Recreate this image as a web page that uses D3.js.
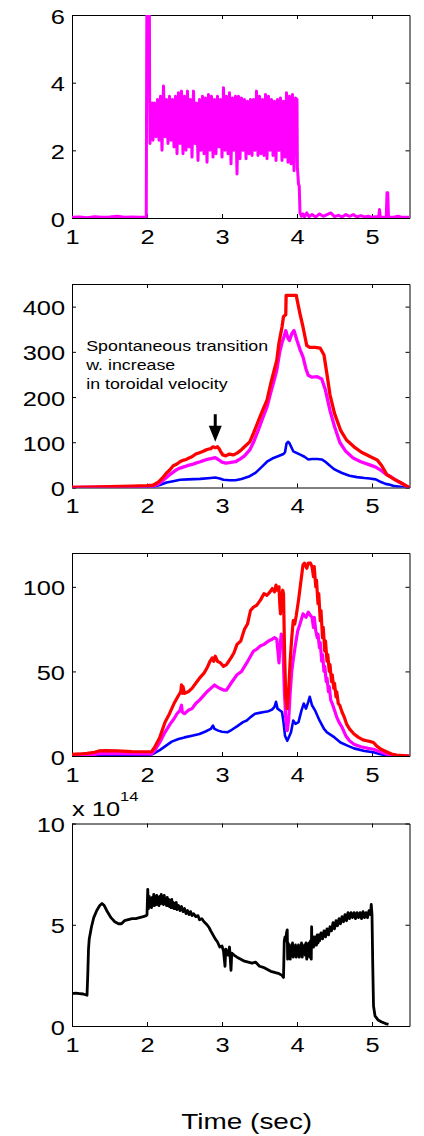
<!DOCTYPE html>
<html><head><meta charset="utf-8">
<script src="https://cdn.jsdelivr.net/npm/d3@7"></script>
<style>body{margin:0;background:#fff}svg{display:block}</style>
</head><body>
<svg id="c" width="424" height="1136"></svg>
<script>
// ---------- data ----------
const xTicks = [1, 2, 3, 4, 5];
const p1Ticks = [0, 2, 4, 6];
const p2Ticks = [0, 100, 200, 300, 400];
const p3Ticks = [0, 50, 100];
const p4Ticks = [0, 5, 10];
const xLabel = "Time (sec)";
const expLabel = ["x 10", "14"];
const annLines = ["Spontaneous transition", "w. increase", "in toroidal velocity"];

// panel 1: magenta [time, value]
const p1Mag = [[1.0,0.02],[1.1,0.03],[1.2,0.01],[1.3,0.04],[1.4,0.02],[1.5,0.03],[1.6,0.05],[1.7,0.02],[1.8,0.03],[1.9,0.02],[1.99,0.02],
[2.0,8],[2.03,8],[2.035,3.6],[2.04,2.2],[2.05,3.4],[2.06,2.7],[2.07,3.4],
[2.08,2.3],[2.10,3.4],[2.12,2.4],[2.14,3.5],[2.16,2.3],[2.18,3.6],[2.20,2.0],[2.22,3.9],[2.24,2.4],[2.26,3.5],[2.28,2.2],[2.30,3.6],
[2.32,2.3],[2.34,3.5],[2.36,2.1],[2.38,3.6],[2.40,1.9],[2.42,3.7],[2.44,2.2],[2.46,3.75],[2.48,1.9],[2.50,3.6],[2.52,2.0],[2.54,3.75],
[2.56,2.1],[2.58,3.5],[2.60,1.8],[2.62,3.75],[2.64,2.2],[2.66,3.4],[2.68,1.7],[2.70,3.5],[2.72,2.0],[2.74,3.6],[2.76,1.9],[2.78,3.55],
[2.80,1.65],[2.82,3.65],[2.84,2.0],[2.86,3.6],[2.88,1.8],[2.90,3.5],[2.92,1.9],[2.94,3.6],[2.96,2.1],[2.98,3.5],[3.00,1.8],[3.02,3.85],
[3.04,2.0],[3.06,3.6],[3.08,1.9],[3.10,3.7],[3.12,1.6],[3.14,3.55],[3.16,2.0],[3.18,3.6],[3.20,1.3],[3.22,3.6],[3.24,1.75],[3.26,3.55],
[3.28,2.0],[3.30,3.5],[3.32,1.75],[3.34,3.45],[3.36,1.9],[3.38,3.5],[3.40,1.85],[3.42,3.5],[3.44,2.0],[3.46,3.75],[3.48,1.85],[3.50,3.6],
[3.52,1.9],[3.54,3.5],[3.56,1.85],[3.58,3.65],[3.60,1.75],[3.62,3.6],[3.64,2.0],[3.66,3.5],[3.68,1.85],[3.70,3.45],[3.72,1.7],[3.74,3.5],
[3.76,2.0],[3.78,3.55],[3.80,1.7],[3.82,3.45],[3.84,1.8],[3.86,3.7],[3.88,1.65],[3.90,3.6],[3.92,1.6],[3.94,3.65],[3.96,1.4],[3.98,3.55],
[4.0,3.5],[4.005,1.5],[4.02,1.0],[4.03,0.95],[4.04,0.15],[4.06,0.05],[4.08,0.12],[4.1,0.03],[4.13,0.15],[4.16,0.04],[4.2,0.1],[4.25,0.03],
[4.3,0.12],[4.35,0.05],[4.4,0.1],[4.45,0.15],[4.5,0.04],[4.55,0.08],[4.6,0.03],[4.65,0.1],[4.7,0.05],[4.75,0.1],[4.8,0.03],[4.85,0.07],
[4.9,0.03],[4.95,0.05],[5.0,0.02],[5.05,0.04],[5.09,0.03],[5.1,0.25],[5.11,0.03],[5.15,0.02],[5.19,0.02],[5.2,0.75],[5.21,0.75],[5.22,0.02],
[5.3,0.03],[5.35,0.05],[5.4,0.02],[5.5,0.02]];

// panel 2
const p2Blue = [[1.0,0],[1.5,0.5],[2.0,1],[2.1,2],[2.18,6],[2.26,11],[2.35,14],[2.44,17],[2.55,18],[2.71,19],[2.85,21],[2.91,22],[2.97,20],
[3.02,17],[3.1,16],[3.18,16],[3.26,19],[3.37,25],[3.45,33],[3.52,44],[3.6,57],[3.67,64],[3.73,68],[3.82,74],[3.84,78],[3.86,97],[3.88,101],
[3.9,98],[3.95,80],[4.0,76],[4.05,72],[4.1,68],[4.15,62],[4.2,63],[4.27,63],[4.33,62],[4.37,58],[4.44,48],[4.5,40],[4.6,32],[4.7,26],
[4.8,23],[4.9,21],[4.97,20],[5.05,18],[5.12,12],[5.18,8],[5.24,6],[5.3,3],[5.4,1],[5.5,0]];
const p2Mag = [[1.0,0],[1.5,1],[2.0,2],[2.08,3],[2.15,8],[2.2,14],[2.26,22],[2.3,28],[2.35,34],[2.4,40],[2.44,43],[2.5,46],[2.55,49],
[2.6,51],[2.65,54],[2.71,57],[2.76,60],[2.82,63],[2.88,65],[2.91,66],[2.95,62],[3.0,56],[3.05,54],[3.1,55],[3.18,57],[3.25,64],[3.3,70],
[3.37,83],[3.42,100],[3.48,125],[3.54,152],[3.6,178],[3.65,210],[3.7,240],[3.73,259],[3.77,300],[3.8,320],[3.83,335],[3.85,347],[3.88,330],
[3.9,325],[3.93,340],[3.96,347],[4.0,325],[4.04,305],[4.08,289],[4.12,262],[4.15,248],[4.2,244],[4.27,245],[4.33,240],[4.38,215],[4.44,170],
[4.5,135],[4.57,100],[4.65,80],[4.75,65],[4.85,57],[4.97,50],[5.05,45],[5.12,38],[5.18,30],[5.24,25],[5.3,18],[5.36,12],[5.4,9],[5.45,4],[5.5,0]];
const p2Red = [[1.0,0],[1.2,1],[1.5,2],[1.8,3],[2.0,4],[2.08,5],[2.15,12],[2.2,20],[2.26,32],[2.3,38],[2.35,48],[2.4,52],[2.44,57],[2.48,60],
[2.52,62],[2.56,65],[2.6,68],[2.65,74],[2.7,77],[2.75,80],[2.8,84],[2.85,86],[2.88,90],[2.91,88],[2.94,90],[2.96,86],[2.98,80],[3.01,72],
[3.05,70],[3.1,74],[3.15,72],[3.2,76],[3.25,82],[3.3,90],[3.37,101],[3.42,120],[3.48,145],[3.54,170],[3.6,193],[3.65,230],[3.7,262],
[3.73,281],[3.76,320],[3.8,355],[3.82,378],[3.85,382],[3.855,425],[3.99,425],[4.02,400],[4.04,384],[4.08,355],[4.13,314],[4.17,310],
[4.24,310],[4.31,308],[4.36,293],[4.4,250],[4.44,205],[4.5,164],[4.58,127],[4.66,105],[4.76,90],[4.86,78],[4.98,68],[5.07,61],[5.13,48],
[5.2,28],[5.3,18],[5.38,11],[5.44,5],[5.5,0]];

// panel 3
const p3Blue = [[1.0,0.3],[1.5,0.5],[2.0,0.5],[2.07,1],[2.17,3.5],[2.25,6],[2.33,8.5],[2.42,10],[2.5,11],[2.6,12],[2.7,13],[2.78,14.5],
[2.85,16],[2.88,18],[2.9,16],[2.95,15],[3.0,14.3],[3.07,14],[3.13,15.5],[3.2,17.5],[3.28,20],[3.33,21],[3.38,23],[3.44,25],[3.5,25.5],
[3.56,26],[3.62,26.5],[3.67,27.5],[3.7,29],[3.72,32],[3.74,28],[3.77,27],[3.8,26],[3.82,20],[3.84,12],[3.87,9],[3.9,12],[3.92,14],
[3.95,21],[3.98,19],[4.02,20],[4.06,27],[4.09,31],[4.12,28],[4.15,32],[4.17,35],[4.2,30],[4.24,27],[4.3,21],[4.36,16],[4.4,14],[4.5,11],
[4.58,8],[4.68,6],[4.76,4.5],[4.9,3],[5.02,2.2],[5.1,1.2],[5.2,0.3],[5.3,0],[5.5,0]];
const p3Mag = [[1.0,0.8],[1.3,1],[1.4,1.5],[1.6,1.4],[2.0,1.2],[2.06,1.3],[2.1,3],[2.17,8],[2.24,14],[2.31,19],[2.36,22],[2.4,25],[2.44,27],
[2.46,30],[2.47,26],[2.5,25],[2.55,27],[2.6,28],[2.65,31],[2.7,33],[2.76,36],[2.8,38],[2.85,40],[2.9,42],[2.93,41],[2.97,40],[3.02,39],
[3.06,39],[3.12,43],[3.2,48],[3.26,50],[3.33,55],[3.38,59],[3.42,62],[3.46,63],[3.51,65],[3.56,66],[3.62,68],[3.67,69],[3.7,70],[3.73,69],
[3.75,60],[3.76,55],[3.77,63],[3.79,72],[3.81,70],[3.83,40],[3.85,22],[3.87,15],[3.89,22],[3.91,38],[3.93,50],[3.95,57],[3.98,66],
[4.01,74],[4.04,78],[4.08,84],[4.12,82],[4.15,85],[4.18,83],[4.2,82],[4.22,76],[4.23,82],[4.25,74],[4.27,70],[4.28,72],[4.3,64],[4.31,67],
[4.33,56],[4.34,60],[4.36,50],[4.37,53],[4.39,44],[4.4,46],[4.42,38],[4.43,41],[4.45,33],[4.47,31],[4.5,27],[4.53,23],[4.56,20],[4.6,17],
[4.65,12],[4.7,9],[4.76,7],[4.85,5.5],[4.95,4.5],[5.02,4],[5.08,3],[5.14,2],[5.2,1],[5.3,0.3],[5.5,0]];
const p3Red = [[1.0,1],[1.1,1.2],[1.2,1.6],[1.3,2.2],[1.36,3],[1.45,3.2],[1.6,3],[1.8,2.6],[2.0,2.5],[2.06,2.6],[2.1,5],[2.17,11],[2.24,20],
[2.3,25],[2.36,31],[2.41,35],[2.45,38],[2.46,42],[2.47,37],[2.48,41],[2.5,37],[2.55,38],[2.6,40],[2.65,43],[2.7,46],[2.76,49],[2.8,52],
[2.84,56],[2.87,58],[2.89,56],[2.91,59],[2.94,56],[2.98,55],[3.02,53],[3.06,54],[3.12,58],[3.16,61],[3.2,66],[3.25,68],[3.3,75],[3.34,78],
[3.38,86],[3.42,88],[3.46,89],[3.51,92],[3.56,96],[3.6,95],[3.64,97],[3.67,99],[3.7,97],[3.72,101],[3.74,98],[3.76,100],[3.77,90],
[3.78,84],[3.79,92],[3.81,98],[3.82,96],[3.835,60],[3.85,35],[3.87,28],[3.89,40],[3.91,57],[3.93,70],[3.95,80],[3.97,78],[3.99,83],
[4.02,92],[4.04,99],[4.06,106],[4.08,113],[4.1,114],[4.13,111],[4.15,114],[4.18,114],[4.2,112],[4.22,106],[4.23,112],[4.25,100],[4.26,104],
[4.28,90],[4.29,96],[4.31,80],[4.32,86],[4.34,70],[4.35,76],[4.37,62],[4.38,68],[4.4,56],[4.41,60],[4.43,50],[4.44,54],[4.46,44],[4.47,48],
[4.49,40],[4.5,43],[4.52,35],[4.53,38],[4.55,31],[4.57,30],[4.6,26],[4.63,23],[4.66,19],[4.7,16],[4.76,13],[4.82,11],[4.88,9.5],[4.93,9],
[4.98,8.5],[5.02,8],[5.06,6],[5.12,4],[5.2,2.4],[5.26,1.2],[5.33,0.5],[5.5,0]];

// panel 4 (x 10^14)
const p4Black = [[1.0,1.6],[1.05,1.62],[1.1,1.6],[1.15,1.58],[1.2,1.52],[1.21,2.5],[1.22,3.8],[1.23,4.3],[1.26,4.9],[1.29,5.35],[1.33,5.7],
[1.37,5.95],[1.4,6.05],[1.43,5.95],[1.47,5.65],[1.52,5.35],[1.57,5.15],[1.62,5.05],[1.66,5.05],[1.7,5.2],[1.75,5.25],[1.8,5.3],[1.85,5.3],
[1.9,5.35],[1.95,5.4],[1.99,5.45],[2.0,5.5],[2.01,6.75],[2.02,5.8],[2.03,6.4],[2.04,5.9],[2.05,6.3],[2.06,5.85],[2.07,6.35],[2.08,5.95],
[2.09,6.5],[2.1,5.95],[2.11,6.4],[2.12,6.0],[2.13,6.45],[2.14,6.0],[2.15,6.35],[2.16,5.95],[2.17,6.4],[2.18,6.05],[2.19,6.5],[2.2,6.05],
[2.21,6.4],[2.22,6.0],[2.23,6.45],[2.24,6.05],[2.25,6.3],[2.26,5.95],[2.27,6.35],[2.28,5.95],[2.29,6.25],[2.3,5.9],[2.31,6.2],[2.32,5.85],
[2.33,6.25],[2.34,5.85],[2.35,6.1],[2.36,5.8],[2.37,6.05],[2.38,5.8],[2.39,6.1],[2.4,5.75],[2.42,5.95],[2.44,5.7],[2.46,5.9],[2.48,5.65],
[2.5,5.8],[2.52,5.55],[2.54,5.7],[2.56,5.5],[2.58,5.65],[2.6,5.45],[2.62,5.55],[2.65,5.4],[2.68,5.45],[2.7,5.25],[2.73,5.3],[2.76,5.15],
[2.8,5.0],[2.83,4.85],[2.85,4.7],[2.88,4.5],[2.91,4.3],[2.94,4.15],[2.97,3.9],[3.0,3.95],[3.02,3.7],[3.04,2.95],[3.05,3.8],[3.08,3.5],
[3.1,3.9],[3.12,2.75],[3.13,3.6],[3.16,3.5],[3.2,3.4],[3.25,3.3],[3.3,3.2],[3.35,3.15],[3.4,3.1],[3.45,3.15],[3.5,2.95],[3.55,2.9],
[3.6,2.8],[3.65,2.7],[3.7,2.65],[3.75,2.6],[3.8,2.5],[3.82,2.4],[3.83,4.2],[3.84,4.4],[3.85,4.2],[3.86,4.6],[3.87,4.75],[3.875,3.3],
[3.88,4.1],[3.89,3.4],[3.9,4.0],[3.91,3.3],[3.92,3.9],[3.93,3.5],[3.94,4.1],[3.95,3.4],[3.96,3.9],[3.97,3.5],[3.98,4.0],[3.99,3.4],
[4.0,3.9],[4.01,3.5],[4.02,4.0],[4.03,3.4],[4.04,3.9],[4.05,3.5],[4.06,4.1],[4.07,3.4],[4.08,3.9],[4.09,3.6],[4.1,4.0],[4.11,3.5],
[4.12,4.1],[4.13,3.3],[4.14,4.0],[4.15,3.6],[4.16,4.1],[4.17,3.4],[4.18,4.2],[4.19,3.3],[4.195,4.9],[4.2,3.9],[4.21,4.3],[4.22,3.9],
[4.23,4.4],[4.24,4.0],[4.25,4.4],[4.26,4.0],[4.27,4.5],[4.28,4.1],[4.29,4.5],[4.3,4.2],[4.32,4.6],[4.34,4.3],[4.36,4.7],[4.38,4.4],
[4.4,4.8],[4.42,4.5],[4.44,4.9],[4.46,4.7],[4.48,5.1],[4.5,4.8],[4.52,5.2],[4.54,4.95],[4.56,5.3],[4.58,5.05],[4.6,5.4],[4.62,5.15],
[4.64,5.5],[4.66,5.2],[4.68,5.6],[4.7,5.3],[4.72,5.6],[4.74,5.35],[4.76,5.6],[4.78,5.3],[4.8,5.6],[4.82,5.35],[4.84,5.6],[4.86,5.3],
[4.88,5.65],[4.9,5.35],[4.92,5.6],[4.94,5.35],[4.96,5.7],[4.98,5.5],[4.99,6.0],[5.0,5.5],[5.01,3],[5.02,1.0],[5.04,0.5],[5.08,0.3],
[5.13,0.2],[5.18,0.12],[5.22,0.08]];

// annotation anchors (data units of panel 2)
const annAt = [1.19, 302];
const arrowAt = [2.91, 162, 101];

// ---------- drawing ----------
const SX = 1.27;           // horizontal stretch of the original figure's text
const FONT = "'Liberation Sans', Arial, Helvetica, sans-serif";
const svg = d3.select("#c");
const x = d3.scaleLinear().domain([1, 5.5]).range([72, 409.5]);

const panels = [
  {top: 15, bottom: 218, yMax: 6, ticks: p1Ticks, series: [{d: p1Mag, c: "#ff00ff", w: 3}]},
  {top: 284, bottom: 487.5, yMax: 450, ticks: p2Ticks, series: [{d: p2Blue, c: "#0000ff", w: 2.6}, {d: p2Mag, c: "#ff00ff", w: 3.3}, {d: p2Red, c: "#ff0000", w: 3.3}]},
  {top: 553, bottom: 756, yMax: 120, ticks: p3Ticks, series: [{d: p3Blue, c: "#0000ff", w: 2.6}, {d: p3Mag, c: "#ff00ff", w: 3.2}, {d: p3Red, c: "#ff0000", w: 3.2}]},
  {top: 823.5, bottom: 1026, yMax: 10, ticks: p4Ticks, series: [{d: p4Black, c: "#000000", w: 2.8}]}
];

const defs = svg.append("defs");
const scales = [];

function styleAxis(g) {
  g.attr("font-family", FONT).attr("font-size", 20);
  g.selectAll("path.domain").attr("stroke", "#000").attr("stroke-width", 1);
  g.selectAll(".tick line").attr("stroke", "#000").attr("stroke-width", 1);
  g.selectAll("text").attr("fill", "#000");
}

panels.forEach((p, i) => {
  const y = d3.scaleLinear().domain([0, p.yMax]).range([p.bottom, p.top]);
  scales.push(y);
  const g = svg.append("g");

  // axes (box with inward ticks on all sides)
  const bx = g.append("g").attr("transform", `translate(0,${p.bottom})`)
    .call(d3.axisBottom(x).tickValues(xTicks).tickSize(-4).tickSizeOuter(0).tickFormat(d3.format("d")));
  styleAxis(bx);
  bx.selectAll("text").attr("y", 26).attr("dy", null).attr("transform", `scale(${SX},1)`);

  const tx = g.append("g").attr("transform", `translate(0,${p.top})`)
    .call(d3.axisTop(x).tickValues(xTicks).tickSize(-4).tickSizeOuter(0).tickFormat(""));
  styleAxis(tx);

  const ly = g.append("g").attr("transform", `translate(${x.range()[0]},0)`)
    .call(d3.axisLeft(y).tickValues(p.ticks).tickSize(-4).tickSizeOuter(0).tickFormat(d3.format("d")));
  styleAxis(ly);
  ly.selectAll("text").attr("x", -7 / SX).attr("y", 8).attr("dy", null).attr("transform", `scale(${SX},1)`);

  const ry = g.append("g").attr("transform", `translate(${x.range()[1]},0)`)
    .call(d3.axisRight(y).tickValues(p.ticks).tickSize(-4).tickSizeOuter(0).tickFormat(""));
  styleAxis(ry);

  // data lines, clipped to the box
  const cid = "clip" + i;
  defs.append("clipPath").attr("id", cid).append("rect")
    .attr("x", x.range()[0]).attr("y", p.top)
    .attr("width", x.range()[1] - x.range()[0]).attr("height", p.bottom - p.top);
  const line = d3.line().x(d => x(d[0])).y(d => y(d[1]));
  const lg = g.append("g").attr("clip-path", `url(#${cid})`);
  p.series.forEach(s => {
    lg.append("path").attr("d", line(s.d)).attr("fill", "none")
      .attr("stroke", s.c).attr("stroke-width", s.w)
      .attr("stroke-linejoin", "round").attr("stroke-linecap", "butt");
  });
});

// annotation in panel 2
const y2 = scales[1];
const ann = svg.append("text")
  .attr("transform", `translate(${x(annAt[0])},${y2(annAt[1])}) scale(${SX},1)`)
  .attr("font-family", FONT).attr("font-size", 14).attr("fill", "#000");
annLines.forEach((t, k) => ann.append("tspan").attr("x", 0).attr("y", k * 18.8).text(t));

// arrow
const ax0 = x(arrowAt[0]), ayTop = y2(arrowAt[1]), ayTip = y2(arrowAt[2]);
const headLen = 16, headHalf = 6.5;
svg.append("line").attr("x1", ax0).attr("x2", ax0).attr("y1", ayTop).attr("y2", ayTip - headLen + 1)
  .attr("stroke", "#000").attr("stroke-width", 3);
svg.append("path")
  .attr("d", d3.line()([[ax0 - headHalf, ayTip - headLen], [ax0 + headHalf, ayTip - headLen], [ax0, ayTip]]) + "Z")
  .attr("fill", "#000");

// exponent label on panel 4
const p4 = panels[3];
const ex = svg.append("text")
  .attr("transform", `translate(${x.range()[0]},${p4.top - 7.5}) scale(${SX},1)`)
  .attr("font-family", FONT).attr("font-size", 20).attr("fill", "#000");
ex.append("tspan").text(expLabel[0]);
ex.append("tspan").attr("dy", -15).attr("font-size", 13).text(expLabel[1]);

// x-axis title
svg.append("text")
  .attr("transform", `translate(${x(3.33)},${p4.bottom + 103}) scale(${SX},1)`)
  .attr("text-anchor", "middle")
  .attr("font-family", FONT).attr("font-size", 22).attr("fill", "#000")
  .text(xLabel);
</script>
</body></html>
